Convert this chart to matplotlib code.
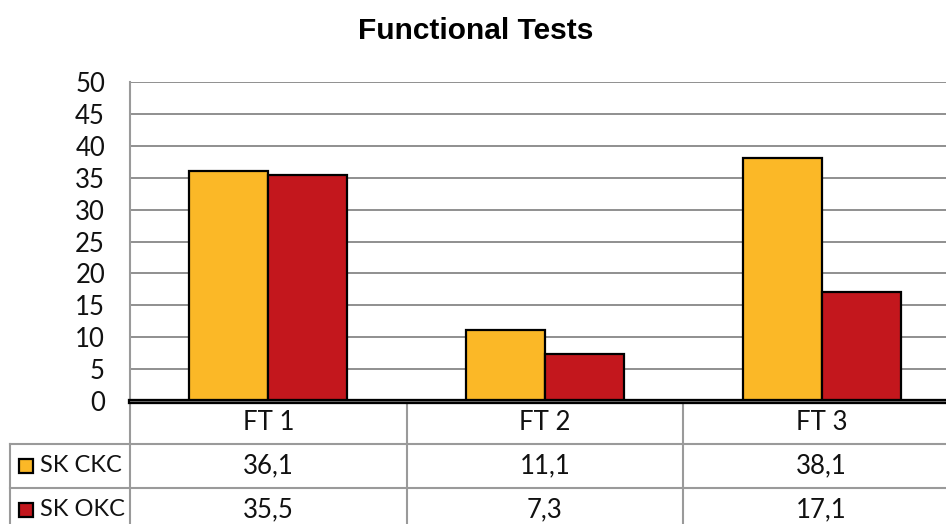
import matplotlib
matplotlib.use("Agg")
import matplotlib.pyplot as plt
from matplotlib.lines import Line2D
from matplotlib.patches import Rectangle
import matplotlib.transforms as mtransforms
import numpy as np

title = "Functional Tests"
categories = ["FT 1", "FT 2", "FT 3"]
series_names = ["SK CKC", "SK OKC"]
sk_ckc = [36.1, 11.1, 38.1]
sk_okc = [35.5, 7.3, 17.1]
yticks = [0, 5, 10, 15, 20, 25, 30, 35, 40, 45, 50]

colors = ["#FBB827", "#C3171D"]
W, H = 946, 524
fig = plt.figure(figsize=(W / 100, H / 100), dpi=100)

def fx(px):
    return px / W

def fy(py):
    return (H - py) / H

ax_left, ax_right, ax_top, ax_bottom = 130, 960, 82, 401
ax = fig.add_axes([fx(ax_left), fy(ax_bottom), fx(ax_right - ax_left), (ax_bottom - ax_top) / H])

x = np.arange(len(categories))
bw = 0.286
ax.bar(x - bw / 2, sk_ckc, bw, color=colors[0], edgecolor="black", linewidth=1.6, zorder=3)
ax.bar(x + bw / 2, sk_okc, bw, color=colors[1], edgecolor="black", linewidth=1.6, zorder=3)

ax.set_xlim(-0.5, 2.5)
ax.set_ylim(0, 50)
ax.set_yticks(yticks)
ax.set_xticks([])
ax.yaxis.grid(True, color="#8f8f8f", linewidth=1.4, zorder=0)
ax.set_axisbelow(True)
for s in ["top", "right", "bottom", "left"]:
    ax.spines[s].set_visible(False)
ax.tick_params(axis="y", length=0, pad=18, labelsize=18.5)
for lab in ax.get_yticklabels():
    lab.set_fontfamily("Lato")
    lab.set_color("#111111")

fig.text(0.503, fy(31), title, ha="center", va="center", fontsize=21.5,
         fontweight="bold", family="Liberation Sans")

grey = "#9a9a9a"
fig.add_artist(Line2D([fx(130), fx(130)], [fy(82), 0], color=grey, lw=1.5))
blend = mtransforms.blended_transform_factory(ax.transData, fig.transFigure)
for xd in [0.5, 1.5]:
    fig.add_artist(Line2D([xd, xd], [fy(401), 0], color=grey, lw=1.5, transform=blend))
for py in [444, 488]:
    fig.add_artist(Line2D([fx(10), 1], [fy(py), fy(py)], color=grey, lw=1.5))
fig.add_artist(Line2D([fx(10), fx(10)], [fy(444), 0], color=grey, lw=1.5))
fig.add_artist(Line2D([fx(130), 1], [fy(401), fy(401)], color="black", lw=3.8))
fig.add_artist(Line2D([fx(130), 1], [fy(401), fy(401)], color="#777777", lw=0.6))

tfont = dict(family="Lato", fontsize=18.5, color="#111111", ha="center", va="center")
row_y = [fy(422), fy(466), fy(510)]
for i, c in enumerate(categories):
    fig.text(x[i], row_y[0], c, transform=blend, **tfont)
for r, vals in enumerate([sk_ckc, sk_okc]):
    for i, v in enumerate(vals):
        fig.text(x[i], row_y[r + 1], f"{v:.1f}".replace(".", ","), transform=blend, **tfont)
    fig.add_artist(Rectangle((fx(19), row_y[r + 1] - 7 / H), 14 / W, 14 / H,
                             facecolor=colors[r], edgecolor="black", lw=1.6,
                             transform=fig.transFigure))
    fig.text(fx(40), row_y[r + 1], series_names[r], family="Lato", fontsize=17,
             color="#111111", ha="left", va="center")

fig.savefig("out.png", dpi=100)
